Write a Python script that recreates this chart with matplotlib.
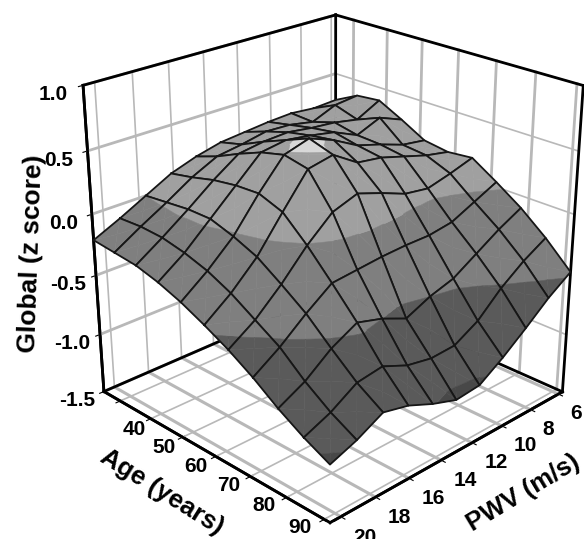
import numpy as np
import matplotlib
matplotlib.use('Agg')
import matplotlib.pyplot as plt
from matplotlib.transforms import Affine2D
from mpl_toolkits.mplot3d.art3d import Poly3DCollection

plt.rcParams['font.family'] = 'Liberation Sans'
plt.rcParams['font.weight'] = 'bold'

# surface nodes
pwv_nodes = [20.6, 19.11, 17.62, 16.13, 14.64, 13.15, 11.66, 10.17, 8.68, 7.19, 5.7]
age_nodes = [34.5, 41.2, 47.9, 54.6, 61.3, 68.0, 74.7, 81.4, 88.1, 94.8, 101.5]
# one row per age node, one column per pwv node
global_z = [
    [-0.21, -0.11, -0.00, 0.11, 0.18, 0.23, 0.25, 0.27, 0.28, 0.26, 0.27],
    [-0.23, -0.10, 0.02, 0.15, 0.25, 0.28, 0.32, 0.31, 0.27, 0.35, 0.37],
    [-0.25, -0.11, 0.04, 0.20, 0.34, 0.37, 0.38, 0.35, 0.33, 0.29, 0.39],
    [-0.30, -0.15, 0.04, 0.23, 0.42, 0.45, 0.42, 0.38, 0.29, 0.37, 0.29],
    [-0.37, -0.21, -0.02, 0.24, 0.47, 0.53, 0.45, 0.34, 0.28, 0.21, 0.18],
    [-0.46, -0.30, -0.10, 0.17, 0.43, 0.47, 0.34, 0.31, 0.25, 0.19, 0.15],
    [-0.56, -0.42, -0.23, -0.01, 0.17, 0.24, 0.17, 0.09, 0.06, 0.11, 0.17],
    [-0.68, -0.54, -0.37, -0.22, -0.20, -0.18, -0.17, -0.17, -0.14, -0.05, 0.04],
    [-0.82, -0.71, -0.55, -0.44, -0.50, -0.59, -0.50, -0.44, -0.32, -0.20, -0.10],
    [-0.94, -0.85, -0.72, -0.69, -0.78, -0.82, -0.81, -0.70, -0.52, -0.38, -0.27],
    [-1.04, -0.96, -0.85, -0.90, -0.99, -1.06, -1.04, -0.91, -0.76, -0.60, -0.47],
]

pwv_ticks = [6, 8, 10, 12, 14, 16, 18, 20]
age_ticks = [40, 50, 60, 70, 80, 90, 100]
age_labels = ['40', '50', '60', '70', '80', '90', '']
z_ticks = [-1.5, -1.0, -0.5, 0.0, 0.5, 1.0]

band_edges = [-9, -1.0, -0.5, 0.0, 0.48, 9]
band_colors = ['#484848', '#5a5a5a', '#7f7f7f', '#a0a0a0', '#d8d8d8']

x0, x1 = 5.7, 20.6
y0, y1 = 34.5, 101.5
z0, z1 = -1.5, 1.0


def clip(poly, level, keep_above):
    # cut a polygon (list of xyz) at a height
    res = []
    for a, b in zip(poly, poly[1:] + poly[:1]):
        ina = (a[2] >= level) == keep_above
        inb = (b[2] >= level) == keep_above
        if ina:
            res.append(a)
        if ina != inb:
            t = (level - a[2]) / (b[2] - a[2])
            res.append(tuple(a[n] + t * (b[n] - a[n]) for n in range(3)))
    return res


fig = plt.figure(figsize=(5.84, 5.39), dpi=100)
ax = fig.add_axes([0.0965, 0.0316, 0.9229, 1.0], projection='3d', computed_zorder=False)
ax.set_xlim(x0, x1)
ax.set_ylim(y0, y1)
ax.set_zlim(z0, z1)
ax.view_init(elev=24.4154, azim=45.3678)
ax.set_proj_type('persp', focal_length=0.5474)
ax.set_box_aspect((1, 0.9895, 0.987), zoom=1.0527)

ax.grid(False)
for axis in (ax.xaxis, ax.yaxis, ax.zaxis):
    axis.set_pane_color((1, 1, 1, 1))
    axis.pane.set_edgecolor('white')
    axis.line.set_color('black')
    axis.line.set_linewidth(2)

ax.set_xticks(pwv_ticks)
ax.set_xticklabels([str(v) for v in pwv_ticks], ha='left')
ax.set_yticks(age_ticks)
ax.set_yticklabels(age_labels, ha='left')
ax.set_zticks(z_ticks)
ax.set_zticklabels(['%.1f' % v for v in z_ticks])
ax.tick_params(labelsize=15, pad=-3)
ax.tick_params(axis='z', pad=4)

# nudge tick labels, Axis3D resets their transform on every get_major_ticks
for labels, dx, dy in [(ax.get_xticklabels(), 6, 0), (ax.get_yticklabels(), 8, -9)]:
    for t in labels:
        t.set_transform(ax.transData + Affine2D().translate(dx, dy))
        t.set_transform = lambda tr: None

# axis titles placed by hand, 3D axis labels cannot slide along their axis
fig.text(523 / 584, 1 - 493 / 539, 'PWV (m/s)', fontsize=18.5, rotation=31,
         ha='center', va='center', rotation_mode='anchor')
fig.text(162 / 584, 1 - 492 / 539, 'Age (years)', fontsize=18.5, rotation=-32,
         ha='center', va='center', rotation_mode='anchor')
fig.text(31 / 584, 1 - 254 / 539, 'Global (z score)', fontsize=19, rotation=88,
         ha='center', va='center', rotation_mode='anchor')

# walls and floor grid
gray = '#b8b8b8'
for v in pwv_ticks:
    ax.plot([v, v], [y0, y1], [z0, z0], color=gray, lw=2.2, zorder=1)
    ax.plot([v, v], [y0, y0], [z0, z1], color=gray, lw=1.2, zorder=1)
for v in age_ticks:
    ax.plot([x0, x1], [v, v], [z0, z0], color=gray, lw=1.2, zorder=1)
    ax.plot([x0, x0], [v, v], [z0, z1], color=gray, lw=2.0, zorder=1)
for v in z_ticks:
    ax.plot([x0, x1], [y0, y0], [v, v], color=gray, lw=2.0, zorder=1)
    ax.plot([x0, x0], [y0, y1], [v, v], color=gray, lw=1.2, zorder=1)

# black frame
for xs, ys, zs in [([x1, x0], [y0, y0], [z1, z1]), ([x0, x0], [y0, y1], [z1, z1]),
                   ([x0, x0], [y0, y0], [z0, z1]), ([x1, x1], [y0, y0], [z0, z1]),
                   ([x0, x0], [y1, y1], [z0, z1]), ([x1, x0], [y0, y0], [z0, z0]),
                   ([x0, x0], [y0, y1], [z0, z0]), ([x1, x1], [y0, y1], [z0, z0]),
                   ([x0, x1], [y1, y1], [z0, z0])]:
    ax.plot(xs, ys, zs, color='black', lw=2, zorder=2)

# surface cells painted back to front, each cut into its grey bands
zorder = 10
for i in range(len(age_nodes) - 1):
    for k in range(len(pwv_nodes) - 2, -1, -1):
        corners = [(pwv_nodes[k], age_nodes[i], global_z[i][k]),
                   (pwv_nodes[k + 1], age_nodes[i], global_z[i][k + 1]),
                   (pwv_nodes[k + 1], age_nodes[i + 1], global_z[i + 1][k + 1]),
                   (pwv_nodes[k], age_nodes[i + 1], global_z[i + 1][k])]
        centre = tuple(np.mean(corners, axis=0))
        pieces, colors = [], []
        for n in range(4):
            tri = [corners[n], corners[(n + 1) % 4], centre]
            for b in range(len(band_colors)):
                part = clip(clip(tri, band_edges[b], True), band_edges[b + 1], False)
                if len(part) > 2:
                    pieces.append(part)
                    colors.append(band_colors[b])
        ax.add_collection3d(Poly3DCollection(pieces, facecolors=colors, edgecolors=colors,
                                             linewidths=0.4, zorder=zorder))
        xs, ys, zs = zip(*(corners + corners[:1]))
        ax.plot(xs, ys, zs, color='#161616', lw=1.3, zorder=zorder + 0.5)
        zorder += 1

ax.set_xlim(x0, x1)
ax.set_ylim(y0, y1)
ax.set_zlim(z0, z1)

fig.savefig('out.png', dpi=100)
